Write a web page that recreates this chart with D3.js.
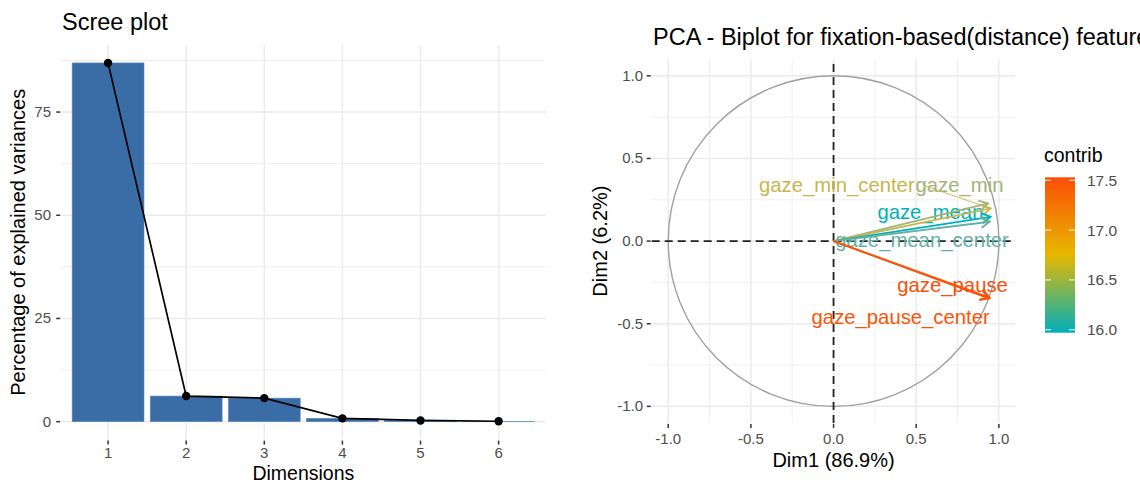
<!DOCTYPE html>
<html>
<head>
<meta charset="utf-8">
<script src="https://cdn.jsdelivr.net/npm/d3@7"></script>
<style>
  body { margin: 0; background: #fff; }
  svg { display: block; font-family: "Liberation Sans", Arial, sans-serif; }
</style>
</head>
<body>
<svg width="1140" height="484"></svg>
<script>
// scree plot data
const dims = [1, 2, 3, 4, 5, 6]
const explained = [86.9, 6.2, 5.7, 0.8, 0.3, 0.1]
const screeTicks = [0, 25, 50, 75]

// biplot data
const vars = ["gaze_min", "gaze_min_center", "gaze_mean", "gaze_mean_center", "gaze_pause", "gaze_pause_center"]
const dim1 = [0.934, 0.950, 0.950, 0.944, 0.940, 0.945]
const dim2 = [0.228, 0.198, 0.147, 0.117, -0.347, -0.342]
const contrib = [16.35, 16.55, 15.97, 16.10, 17.53, 17.50]
// where the (repelled) labels ended up, in data units
const labelX = [0.762, 0.020, 0.586, 0.535, 0.720, 0.406]
const labelY = [0.339, 0.339, 0.177, 0.006, -0.266, -0.458]
const bipTicks = [-1, -0.5, 0, 0.5, 1]
const legendTicks = [16.0, 16.5, 17.0, 17.5]
const gradCols = ["#00AFBB", "#E7B800", "#FC4E07"]

const svg = d3.select("svg")
const tickCol = "#4D4D4D", gridCol = "#EBEBEB"

// ---------- Scree plot ----------
const x = d3.scaleLinear().domain([0.4, 6.6]).range([61.2, 545.5]),
    y = d3.scaleLinear().domain([-4.345, 91.245]).range([439.6, 45])

const left = svg.append("g")

// minor + major grid
d3.range(12.5, 91, 25).forEach(function (v) {
    left.append("line").attr("x1", x.range()[0]).attr("x2", x.range()[1])
        .attr("y1", y(v)).attr("y2", y(v)).attr("stroke", gridCol).attr("stroke-width", 0.8)
})
screeTicks.forEach(function (v) {
    left.append("line").attr("x1", x.range()[0]).attr("x2", x.range()[1])
        .attr("y1", y(v)).attr("y2", y(v)).attr("stroke", gridCol).attr("stroke-width", 1.5)
})
dims.forEach(function (d) {
    left.append("line").attr("x1", x(d)).attr("x2", x(d))
        .attr("y1", y.range()[0]).attr("y2", y.range()[1]).attr("stroke", gridCol).attr("stroke-width", 1.5)
})

const bw = 0.92
left.selectAll("rect.bar")
    .data(dims)
    .enter()
    .append("rect")
    .attr("x", d => x(d - bw / 2))
    .attr("width", x(bw) - x(0))
    .attr("y", (d, i) => y(explained[i]))
    .attr("height", (d, i) => y(0) - y(explained[i]))
    .attr("fill", "#3A6DA6")
    .attr("stroke", "#5A8AC0")
    .attr("stroke-width", 0.6)

const screeLine = d3.line()
    .x(d => x(d))
    .y((d, i) => y(explained[i]))

left.append("path")
    .attr("d", screeLine(dims))
    .attr("fill", "none")
    .attr("stroke", "black")
    .attr("stroke-width", 1.7)

left.selectAll("circle.pt")
    .data(dims)
    .enter()
    .append("circle")
    .attr("cx", d => x(d))
    .attr("cy", (d, i) => y(explained[i]))
    .attr("r", 4.2)
    .attr("fill", "black")

// axes
screeTicks.forEach(function (v) {
    left.append("line").attr("x1", x.range()[0] - 5).attr("x2", x.range()[0] - 1)
        .attr("y1", y(v)).attr("y2", y(v)).attr("stroke", "#333").attr("stroke-width", 1.5)
    left.append("text").attr("x", 51).attr("y", y(v) + 5)
        .attr("text-anchor", "end").attr("font-size", 15).attr("fill", tickCol).text(v)
})
dims.forEach(function (d) {
    left.append("line").attr("x1", x(d)).attr("x2", x(d))
        .attr("y1", y.range()[0] + 1).attr("y2", y.range()[0] + 5).attr("stroke", "#333").attr("stroke-width", 1.5)
    left.append("text").attr("x", x(d)).attr("y", 458)
        .attr("text-anchor", "middle").attr("font-size", 15).attr("fill", tickCol).text(d)
})

left.append("text").attr("x", 62).attr("y", 30).attr("font-size", 23.5).text("Scree plot")
left.append("text").attr("x", (x.range()[0] + x.range()[1]) / 2).attr("y", 480)
    .attr("text-anchor", "middle").attr("font-size", 19.5).text("Dimensions")
left.append("text")
    .attr("transform", "translate(25," + ((y.range()[0] + y.range()[1]) / 2) + ") rotate(-90)")
    .attr("text-anchor", "middle").attr("font-size", 20).text("Percentage of explained variances")

// ---------- Biplot ----------
const bx = d3.scaleLinear().domain([-1.1, 1.1]).range([651.7, 1015.4]),
    by = d3.scaleLinear().domain([-1.1, 1.1]).range([422.9, 59.3])
const col = d3.scaleLinear()
    .domain([d3.min(contrib), (d3.min(contrib) + d3.max(contrib)) / 2, d3.max(contrib)])
    .range(gradCols)
    .interpolate(d3.interpolateLab)

const right = svg.append("g")

const minor = [-0.75, -0.25, 0.25, 0.75]
minor.forEach(function (v) {
    right.append("line").attr("x1", bx(v)).attr("x2", bx(v)).attr("y1", by.range()[0]).attr("y2", by.range()[1])
        .attr("stroke", gridCol).attr("stroke-width", 0.8)
    right.append("line").attr("y1", by(v)).attr("y2", by(v)).attr("x1", bx.range()[0]).attr("x2", bx.range()[1])
        .attr("stroke", gridCol).attr("stroke-width", 0.8)
})
bipTicks.forEach(function (v) {
    right.append("line").attr("x1", bx(v)).attr("x2", bx(v)).attr("y1", by.range()[0]).attr("y2", by.range()[1])
        .attr("stroke", gridCol).attr("stroke-width", 1.5)
    right.append("line").attr("y1", by(v)).attr("y2", by(v)).attr("x1", bx.range()[0]).attr("x2", bx.range()[1])
        .attr("stroke", gridCol).attr("stroke-width", 1.5)
})

// correlation circle
right.append("circle")
    .attr("cx", bx(0)).attr("cy", by(0)).attr("r", bx(1) - bx(0))
    .attr("fill", "none").attr("stroke", "#A0A0A0").attr("stroke-width", 1.4)

// dashed axes
right.append("line").attr("x1", bx.range()[0]).attr("x2", bx.range()[1]).attr("y1", by(0)).attr("y2", by(0))
    .attr("stroke", "#222").attr("stroke-width", 1.8).attr("stroke-dasharray", "8,5")
right.append("line").attr("x1", bx(0)).attr("x2", bx(0)).attr("y1", by.range()[0]).attr("y2", by.range()[1])
    .attr("stroke", "#222").attr("stroke-width", 1.8).attr("stroke-dasharray", "8,5")

// labels first (arrows drawn on top like the reference)
const labels = right.selectAll("text.var")
    .data(vars)
    .enter()
    .append("text")
    .attr("x", (d, i) => bx(labelX[i]))
    .attr("y", (d, i) => by(labelY[i]) + 7)
    .attr("text-anchor", "middle")
    .attr("font-size", 20.3)
    .attr("fill", (d, i) => col(contrib[i]))
    .text(d => d)

// repel segment for gaze_min_center
const mc = vars.indexOf("gaze_min_center")
const mcNode = labels.nodes()[mc]
const mcEnd = bx(labelX[mc]) + mcNode.getComputedTextLength() / 2
right.append("line")
    .attr("x1", mcEnd + 8).attr("y1", by(labelY[mc]))
    .attr("x2", bx(dim1[mc])).attr("y2", by(dim2[mc]))
    .attr("stroke", col(contrib[mc])).attr("stroke-width", 0.9)

vars.forEach(function (v, i) {
    const x0 = bx(0), y0 = by(0), x1 = bx(dim1[i]), y1 = by(dim2[i])
    const ang = Math.atan2(y1 - y0, x1 - x0), len = 10, spread = Math.PI / 6
    const c = col(contrib[i])
    right.append("line").attr("x1", x0).attr("y1", y0).attr("x2", x1).attr("y2", y1)
        .attr("stroke", c).attr("stroke-width", 1.8)
    const head = [
        [x1 - len * Math.cos(ang - spread), y1 - len * Math.sin(ang - spread)],
        [x1, y1],
        [x1 - len * Math.cos(ang + spread), y1 - len * Math.sin(ang + spread)]
    ]
    right.append("path").attr("d", d3.line()(head))
        .attr("fill", "none").attr("stroke", c).attr("stroke-width", 1.8)
})

// biplot axes
bipTicks.forEach(function (v) {
    const lab = v.toFixed(1)
    right.append("line").attr("x1", bx.range()[0] - 5).attr("x2", bx.range()[0] - 1)
        .attr("y1", by(v)).attr("y2", by(v)).attr("stroke", "#333").attr("stroke-width", 1.5)
    right.append("text").attr("x", 643).attr("y", by(v) + 5)
        .attr("text-anchor", "end").attr("font-size", 15).attr("fill", tickCol).text(lab)
    right.append("line").attr("x1", bx(v)).attr("x2", bx(v))
        .attr("y1", by.range()[0] + 1).attr("y2", by.range()[0] + 5).attr("stroke", "#333").attr("stroke-width", 1.5)
    right.append("text").attr("x", bx(v)).attr("y", 444)
        .attr("text-anchor", "middle").attr("font-size", 15).attr("fill", tickCol).text(lab)
})

right.append("text").attr("x", 653).attr("y", 45).attr("font-size", 23.5)
    .text("PCA - Biplot for fixation-based(distance) features")
right.append("text").attr("x", bx(0)).attr("y", 467)
    .attr("text-anchor", "middle").attr("font-size", 20).text("Dim1 (86.9%)")
right.append("text")
    .attr("transform", "translate(607," + by(0) + ") rotate(-90)")
    .attr("text-anchor", "middle").attr("font-size", 20).text("Dim2 (6.2%)")

// ---------- colour bar legend ----------
const ly = d3.scaleLinear().domain([d3.min(contrib), d3.max(contrib)]).range([332.7, 177.3])
const grad = svg.append("defs").append("linearGradient")
    .attr("id", "cgrad").attr("x1", 0).attr("x2", 0).attr("y1", 1).attr("y2", 0)
gradCols.forEach(function (c, i) {
    grad.append("stop").attr("offset", i / (gradCols.length - 1)).attr("stop-color", c)
})
const leg = svg.append("g")
leg.append("rect").attr("x", 1045).attr("width", 30)
    .attr("y", ly.range()[1]).attr("height", ly.range()[0] - ly.range()[1])
    .attr("fill", "url(#cgrad)")
legendTicks.forEach(function (v) {
    leg.append("line").attr("x1", 1045).attr("x2", 1051).attr("y1", ly(v)).attr("y2", ly(v))
        .attr("stroke", "white").attr("stroke-width", 1.2).attr("opacity", 0.8)
    leg.append("line").attr("x1", 1069).attr("x2", 1075).attr("y1", ly(v)).attr("y2", ly(v))
        .attr("stroke", "white").attr("stroke-width", 1.2).attr("opacity", 0.8)
    leg.append("text").attr("x", 1087).attr("y", ly(v) + 5.5)
        .attr("font-size", 15.5).attr("fill", tickCol).text(v.toFixed(1))
})
leg.append("text").attr("x", 1044).attr("y", 162).attr("font-size", 19.5).text("contrib")
</script>
</body>
</html>
